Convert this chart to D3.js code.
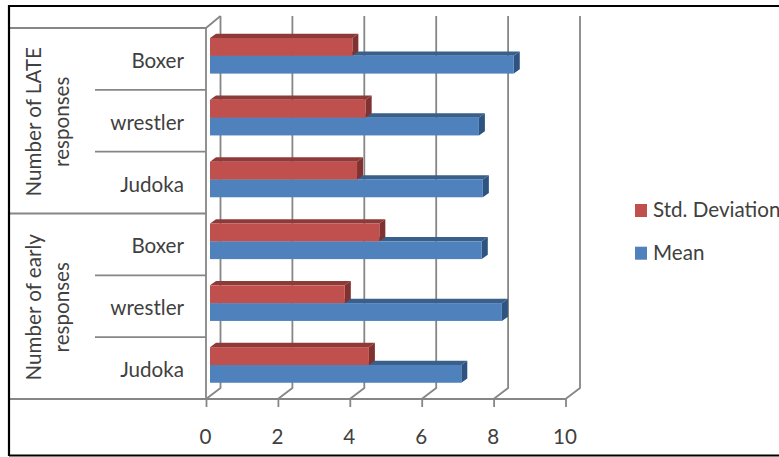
<!DOCTYPE html>
<html>
<head>
<meta charset="utf-8">
<script src="https://cdn.jsdelivr.net/npm/d3@7/dist/d3.min.js"></script>
<style>
html,body{margin:0;padding:0;background:#fff;overflow:hidden}
svg{display:block}
text{font-family:Lato,"Open Sans",sans-serif;fill:#404040}
</style>
</head>
<body>
<svg id="chart" width="779" height="457"></svg>
<script>
// Chart content, listed from the top row downwards
const groups = [["Number of LATE", "responses"], ["Number of early", "responses"]];
const categories = ["Boxer", "wrestler", "Judoka", "Boxer", "wrestler", "Judoka"];
const meanValues = [8.45, 7.48, 7.59, 7.56, 8.12, 6.99];
const stdValues = [3.96, 4.33, 4.09, 4.71, 3.75, 4.42];
const xTicks = [0, 2, 4, 6, 8, 10];
const seriesNames = ["Std. Deviation", "Mean"];

const svg = d3.select("#chart");
const grey = "#868686";
const fontSize = 20.6;
const depthX = 14.5, depthY = 11;
const barDepthX = 6, barDepthY = 4.3;

const x = d3.scaleLinear().domain([0, 10]).range([206, 565.5]);
const rows = d3.scaleBand().domain(d3.range(categories.length)).range([28, 399]).paddingInner(0);
const barX = v => x(v) - x(0) + 210; // bars sit slightly in front of the back wall
const barH = 17.8, barTop = 10;

// Back wall gridlines and their floor diagonals
svg.append("g").selectAll("path").data(xTicks).join("path")
  .attr("fill", "none").attr("stroke", grey).attr("stroke-width", 1.8)
  .attr("d", d => `M${x(d)},399 L${x(d) + depthX},${399 - depthY} V16`);

// Left wall, floor, top edge
const frame = svg.append("g").attr("fill", "none").attr("stroke", grey).attr("stroke-width", 1.8);
frame.append("path").attr("d", `M206,399 V28 L${206 + depthX},16`);
frame.append("path").attr("d", "M9,28 H206");
frame.append("path").attr("d", `M9,399 H${x(10)}`);

// Category dividers: short between rows, long between groups
categories.forEach((c, i) => {
  if (i === 0) return;
  const y = rows(i);
  frame.append("path").attr("d", `M${i % 3 === 0 ? 9 : 95},${y} H206`);
});

// Value axis
const axis = d3.axisBottom(x).tickValues(xTicks).tickSize(8).tickPadding(22).tickFormat(d3.format("d"));
const gAxis = svg.append("g").attr("transform", "translate(0,399)").call(axis);
gAxis.select(".domain").remove();
gAxis.selectAll("line").attr("stroke", grey).attr("stroke-width", 1.8);
gAxis.selectAll("text").attr("font-size", fontSize).attr("dx", -1).attr("fill", "#404040");

// One extruded horizontal bar: top face, side face, front face
function bar(g, value, y, front, top, side) {
  const x0 = barX(0), x1 = barX(value);
  g.append("polygon").attr("fill", top)
    .attr("points", [[x0, y], [x1, y], [x1 + barDepthX, y - barDepthY], [x0 + barDepthX, y - barDepthY]].join(" "));
  g.append("polygon").attr("fill", side)
    .attr("points", [[x1, y], [x1 + barDepthX, y - barDepthY], [x1 + barDepthX, y + barH - barDepthY], [x1, y + barH]].join(" "));
  g.append("rect").attr("x", x0).attr("y", y).attr("width", x1 - x0).attr("height", barH).attr("fill", front);
}

const gBars = svg.append("g");
categories.forEach((c, i) => {
  const y = rows(i) + barTop;
  bar(gBars, meanValues[i], y + barH, "#4F81BD", "#3A5F8B", "#2F5380");
  bar(gBars, stdValues[i], y, "#C0504D", "#8E3A38", "#7F3230");
});

// Category labels
svg.append("g").selectAll("text").data(categories).join("text")
  .attr("x", 184).attr("y", (d, i) => rows(i) + rows.bandwidth() / 2 + 9)
  .attr("text-anchor", "end").attr("font-size", fontSize).text(d => d);

// Rotated group labels, two lines each
groups.forEach((lines, g) => {
  const cy = rows(g * 3) + rows.bandwidth() * 1.5 + 1;
  lines.forEach((t, k) => {
    svg.append("text")
      .attr("transform", `translate(${41 + k * 28},${cy}) rotate(-90)`)
      .attr("text-anchor", "middle").attr("font-size", fontSize).text(t);
  });
});

// Legend
const legendColors = ["#C0504D", "#4F81BD"];
const legend = svg.append("g").selectAll("g").data(seriesNames).join("g")
  .attr("transform", (d, i) => `translate(635,${204 + i * 42.7})`);
legend.append("rect").attr("width", 12).attr("height", 13).attr("fill", (d, i) => legendColors[i]);
legend.append("text").attr("x", 18).attr("y", 13).attr("font-size", fontSize).text(d => d);

// Outer border
svg.append("path").attr("fill", "none").attr("stroke", "#000").attr("stroke-width", 2.2)
  .attr("d", "M9,456 V6 H779 M9,455.5 H779");
</script>
</body>
</html>
